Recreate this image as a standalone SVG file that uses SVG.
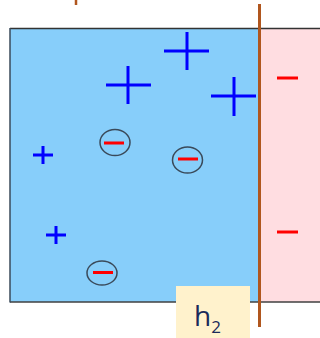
<svg xmlns="http://www.w3.org/2000/svg" width="320" height="338" viewBox="0 0 320 338">
<style>
.pos{stroke:#0000FF;stroke-width:3;fill:none}
.neg{stroke:#FF0000;stroke-width:3;fill:none}
.ring{stroke:#3a4a5a;stroke-width:1.5;fill:none}
</style>
<rect width="320" height="338" fill="#FFFFFF"/>
<g id="left-region">
<rect x="10" y="28" width="249.5" height="274" fill="#87CEFA"/>
</g>
<g id="right-region">
<rect x="259.5" y="28" width="61" height="274" fill="#FFDDE1"/>
</g>
<g id="borders">
<line x1="10" y1="28.5" x2="320" y2="28.5" stroke="#333333" stroke-width="1.5"/>
<line x1="10" y1="302" x2="320" y2="302" stroke="#404040" stroke-width="1.5"/>
<line x1="10" y1="28" x2="10" y2="302.5" stroke="#3a4a5a" stroke-width="1.5"/>
</g>
<g id="charges">
<path class="pos" d="M164 51H209M187 32V70"/>
<path class="pos" d="M106 85H151M128 66V104"/>
<path class="pos" d="M211 96H256M234 77V116"/>
<path class="pos" d="M33 155H53M43 146V164"/>
<path class="pos" d="M46 235H66M56 226V244"/>
<ellipse class="ring" cx="115" cy="142.5" rx="15" ry="13"/>
<path class="neg" d="M104 143H124"/>
<ellipse class="ring" cx="187.5" cy="160" rx="15" ry="13"/>
<path class="neg" d="M178 159H198"/>
<ellipse class="ring" cx="102" cy="273" rx="15" ry="12"/>
<path class="neg" d="M93 272.5H113"/>
<path class="neg" d="M277 78H298"/>
<path class="neg" d="M277 232H298"/>
</g>
<g id="membrane">
<line x1="259.5" y1="4" x2="259.5" y2="327" stroke="#B0561E" stroke-width="3"/>
<line x1="76" y1="0" x2="76" y2="5" stroke="#B0561E" stroke-width="2.5"/>
</g>
<g id="label-h2">
<rect x="176" y="286" width="74" height="52" fill="#FFF2CC"/>
<text x="194" y="326" font-family="'Open Sans','Liberation Sans',sans-serif" font-size="28" fill="#1A2A5A">h<tspan font-size="17" dy="7">2</tspan></text>
</g>
</svg>
